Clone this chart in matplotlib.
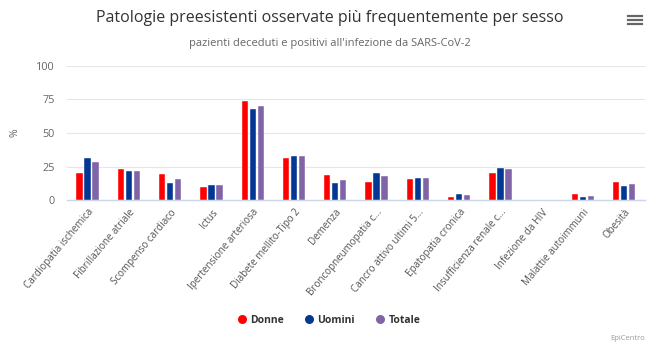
import matplotlib
matplotlib.use("Agg")
import matplotlib.pyplot as plt
from matplotlib.lines import Line2D
import numpy as np

categories = ["Cardiopatia ischemica", "Fibrillazione atriale", "Scompenso cardiaco", "Ictus",
              "Ipertensione arteriosa", "Diabete mellito-Tipo 2", "Demenza", "Broncopneumopatia c...",
              "Cancro attivo ultimi 5...", "Epatopatia cronica", "Insufficienza renale c...",
              "Infezione da HIV", "Malattie autoimmuni", "Obesità"]
donne = [20.3, 22.8, 19.6, 10.0, 74.0, 31.0, 18.4, 13.4, 15.9, 2.5, 19.9, 0.0, 4.5, 13.4]
uomini = [31.0, 21.6, 12.7, 10.9, 68.2, 32.5, 12.7, 19.9, 16.6, 4.5, 24.0, 0.0, 2.5, 10.2]
totale = [28.0, 22.0, 15.4, 10.9, 70.2, 32.5, 14.6, 17.9, 16.6, 3.7, 22.8, 0.0, 3.0, 11.7]
series_names = ["Donne", "Uomini", "Totale"]
colors = ["#ff0000", "#023894", "#8064a8"]
yticks = [0, 25, 50, 75, 100]

plt.rcParams['font.family'] = ['Open Sans', 'DejaVu Sans']
fig = plt.figure(figsize=(6.6, 3.54), dpi=100)
fig.patch.set_facecolor("white")
ax = fig.add_axes([0.1015, 0.435, 0.8755, 0.3786])

x = np.arange(len(categories))
stride = 0.194
width = 0.153
for i, (vals, c, n) in enumerate(zip([donne, uomini, totale], colors, series_names)):
    ax.bar(x + (i - 1) * stride, vals, width=width, color=c, label=n, zorder=3,
           edgecolor="white", linewidth=0.3)

ax.set_xlim(-0.5, len(categories) - 0.5)
ax.set_ylim(0, 100)
ax.set_yticks(yticks)
ax.set_yticklabels([str(t) for t in yticks], fontsize=7.8, color="#666666")
ax.tick_params(axis="y", length=0, pad=9)
ax.set_xticks(x)
ax.set_xticklabels(categories, rotation=50, ha="right", rotation_mode="anchor",
                   fontsize=7.1, color="#555555")
ax.tick_params(axis="x", length=0, pad=5)
ax.grid(axis="y", color="#e6e6e6", linewidth=0.8, zorder=0)
for s in ["top", "right", "left"]:
    ax.spines[s].set_visible(False)
ax.spines["bottom"].set_color("#ccd6eb")
ax.spines["bottom"].set_linewidth(1)
ax.set_ylabel("%", fontsize=7.5, color="#666666")
ax.yaxis.set_label_coords(-0.081, 0.5)

fig.text(0.5, 0.949, "Patologie preesistenti osservate più frequentemente per sesso",
         ha="center", va="center", fontsize=11.5, color="#333333")
fig.text(0.5, 0.876, "pazienti deceduti e positivi all'infezione da SARS-CoV-2",
         ha="center", va="center", fontsize=8, color="#666666")

# hamburger icon
for yy in [0.955, 0.944, 0.933]:
    fig.add_artist(Line2D([0.952, 0.972], [yy, yy], color="#666666", linewidth=1.6,
                          transform=fig.transFigure))

handles = [Line2D([0], [0], marker="o", color="w", markerfacecolor=c, markersize=7.5,
                  label=n) for c, n in zip(colors, series_names)]
leg = fig.legend(handles=handles, loc="center", bbox_to_anchor=(0.497, 0.096), ncol=3,
                 frameon=False, handletextpad=0.2, columnspacing=1.8, handlelength=1.2,
                 prop={"size": 7.5, "weight": "bold"})
for t in leg.get_texts():
    t.set_color("#333333")

fig.text(0.977, 0.043, "EpiCentro", ha="right", va="center", fontsize=5.5, color="#999999")

fig.savefig("out.png", dpi=100, facecolor="white")
